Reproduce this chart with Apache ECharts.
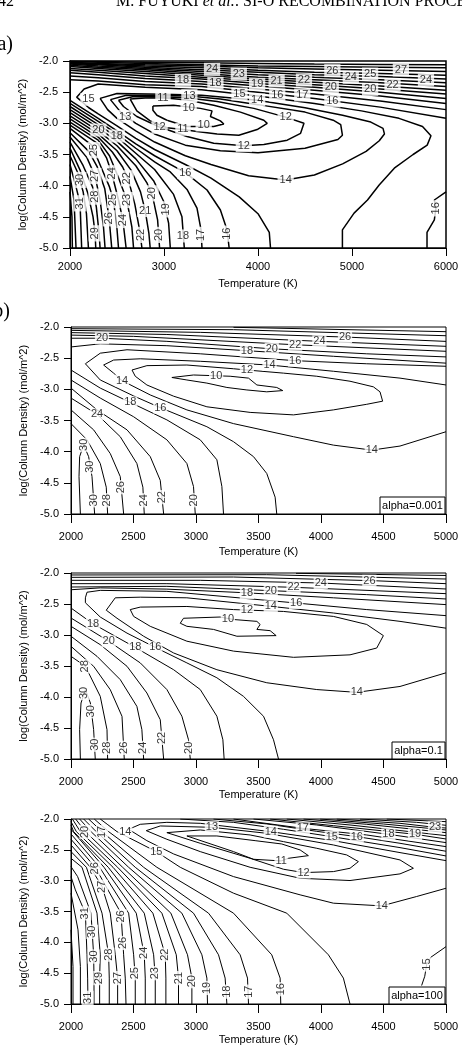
<!DOCTYPE html>
<html>
<head>
<meta charset="utf-8">
<script src="https://cdn.jsdelivr.net/npm/echarts@6/dist/echarts.min.js"></script>
<style>
html, body { margin: 0; padding: 0; background: #fff; }
#main { width: 462px; height: 1048px; }
</style>
</head>
<body>
<div id="main"></div>
<script>
// ---- panel (a) ----
const bandTempsA = [2000, 2300, 2800, 3400, 4000, 4600, 5300, 6000]
const bandA = [
  [16, [-2.30, -2.32, -2.38, -2.41, -2.50, -2.60, -2.74, -2.92]],
  [17, [-2.24, -2.27, -2.33, -2.37, -2.45, -2.53, -2.64, -2.78]],
  [18, [-2.19, -2.22, -2.28, -2.33, -2.40, -2.47, -2.56, -2.68]],
  [19, [-2.15, -2.18, -2.24, -2.29, -2.36, -2.42, -2.50, -2.60]],
  [20, [-2.12, -2.15, -2.20, -2.26, -2.32, -2.38, -2.45, -2.53]],
  [21, [-2.09, -2.12, -2.17, -2.23, -2.29, -2.34, -2.40, -2.47]],
  [22, [-2.07, -2.10, -2.14, -2.20, -2.26, -2.30, -2.35, -2.41]],
  [23, [-2.05, -2.08, -2.12, -2.17, -2.22, -2.26, -2.30, -2.35]],
  [24, [-2.04, -2.06, -2.10, -2.14, -2.18, -2.22, -2.25, -2.29]],
  [25, [-2.03, -2.05, -2.08, -2.11, -2.15, -2.18, -2.20, -2.23]],
  [26, [-2.02, -2.04, -2.06, -2.08, -2.11, -2.13, -2.15, -2.17]],
  [27, [-2.01, -2.02, -2.04, -2.06, -2.08, -2.09, -2.10, -2.11]],
  [28, [-2.005, -2.01, -2.02, -2.03, -2.04, -2.05, -2.055, -2.06]]
]
const contoursA = [
  [10, [[2882, -2.72], [3102, -2.71], [3387, -2.76], [3511, -2.80], [3494, -2.89], [3600, -2.96], [3636, -3.01], [3529, -3.05], [3245, -3.05], [3031, -2.95], [2925, -2.87], [2882, -2.79], [2882, -2.72]]],
  [11, [[2640, -2.61], [2800, -2.595], [2989, -2.59], [3245, -2.625], [3529, -2.71], [3813, -2.82], [4062, -2.95], [4098, -3.00], [3991, -3.10], [3796, -3.19], [3565, -3.17], [3351, -3.13], [3202, -3.10], [3031, -3.07], [2853, -2.96], [2711, -2.80], [2640, -2.61]]],
  [12, [[2516, -2.63], [2676, -2.57], [2960, -2.575], [3245, -2.59], [3565, -2.65], [3956, -2.76], [4294, -2.90], [4489, -3.00], [4453, -3.16], [4311, -3.27], [4062, -3.34], [3849, -3.36], [3529, -3.32], [3245, -3.21], [2953, -3.06], [2711, -2.89], [2569, -2.73], [2516, -2.63]]],
  [13, [[2430, -2.62], [2600, -2.55], [3000, -2.555], [3270, -2.56], [3600, -2.61], [4000, -2.70], [4500, -2.82], [4800, -2.95], [4880, -3.02], [4898, -3.19], [4850, -3.26], [4500, -3.40], [4000, -3.47], [3600, -3.44], [3227, -3.35], [2900, -3.17], [2700, -3.00], [2550, -2.84], [2430, -2.62]]],
  [14, [[2320, -2.60], [2500, -2.52], [3000, -2.535], [3400, -2.55], [3991, -2.63], [4500, -2.75], [4900, -2.87], [5200, -2.98], [5330, -3.08], [5345, -3.17], [5290, -3.28], [5150, -3.45], [4900, -3.65], [4600, -3.83], [4294, -3.91], [3900, -3.84], [3500, -3.66], [3227, -3.52], [2900, -3.30], [2700, -3.12], [2500, -2.92], [2400, -2.78], [2320, -2.60]]],
  [15, [[4898, -5.0], [4898, -4.71], [5022, -4.44], [5165, -4.23], [5289, -3.99], [5450, -3.72], [5650, -3.50], [5800, -3.35], [5840, -3.20], [5750, -3.05], [5500, -2.92], [5100, -2.80], [4600, -2.68], [4000, -2.56], [3400, -2.46], [2800, -2.42], [2300, -2.37], [2150, -2.45], [2071, -2.58], [2200, -2.75], [2300, -2.85], [2500, -3.04], [2700, -3.24], [2900, -3.42], [3227, -3.66], [3500, -3.88], [3800, -4.18], [4000, -4.45], [4120, -4.75], [4133, -5.0]]],
  [16, [[6000, -4.10], [5876, -4.23], [5893, -4.36], [5876, -4.55], [5798, -4.75], [5798, -5.0]]],
  [16, [[2000, -2.63], [2300, -2.92], [2500, -3.12], [2700, -3.33], [2900, -3.52], [3227, -3.79], [3458, -4.07], [3600, -4.39], [3671, -4.71], [3693, -5.0]]],
  [17, [[2000, -2.68], [2300, -2.97], [2500, -3.17], [2700, -3.40], [2900, -3.62], [3067, -3.78], [3245, -4.06], [3351, -4.36], [3394, -4.71], [3404, -5.0]]],
  [18, [[2000, -2.73], [2300, -3.02], [2500, -3.22], [2700, -3.48], [2900, -3.74], [3102, -4.14], [3191, -4.50], [3216, -5.0]]],
  [19, [[2000, -2.78], [2300, -3.07], [2500, -3.29], [2700, -3.57], [2889, -3.92], [2996, -4.25], [3049, -4.60], [3067, -5.0]]],
  [20, [[2000, -2.83], [2300, -3.12], [2500, -3.36], [2700, -3.68], [2820, -3.96], [2880, -4.18], [2932, -4.55], [2953, -5.0]]],
  [21, [[2000, -2.88], [2300, -3.17], [2500, -3.44], [2650, -3.75], [2750, -4.10], [2800, -4.40], [2839, -4.76], [2853, -5.0]]],
  [22, [[2000, -2.93], [2300, -3.22], [2450, -3.46], [2560, -3.70], [2620, -3.90], [2690, -4.30], [2745, -4.75], [2765, -5.0]]],
  [23, [[2000, -2.98], [2300, -3.27], [2420, -3.52], [2510, -3.85], [2604, -4.23], [2658, -4.66], [2676, -5.0]]],
  [24, [[2000, -3.03], [2300, -3.33], [2390, -3.56], [2444, -3.80], [2516, -4.23], [2562, -4.55], [2597, -5.0]]],
  [25, [[2000, -3.08], [2231, -3.35], [2330, -3.70], [2420, -4.02], [2462, -4.23], [2498, -4.66], [2516, -5.0]]],
  [26, [[2000, -3.15], [2200, -3.45], [2290, -3.70], [2370, -4.05], [2416, -4.52], [2444, -5.0]]],
  [27, [[2000, -3.22], [2180, -3.55], [2267, -3.85], [2320, -4.23], [2356, -4.66], [2373, -5.0]]],
  [28, [[2000, -3.30], [2140, -3.68], [2240, -4.02], [2280, -4.34], [2309, -4.76], [2320, -5.0]]],
  [29, [[2000, -3.40], [2107, -3.75], [2190, -4.12], [2245, -4.50], [2267, -4.76], [2274, -5.0]]],
  [30, [[2000, -3.52], [2085, -3.80], [2140, -4.10], [2175, -4.45], [2196, -5.0]]],
  [31, [[2000, -3.66], [2064, -4.02], [2107, -4.28], [2124, -5.0]]],
  [32, [[2000, -3.85], [2043, -4.23], [2064, -5.0]]],
  [33, [[2000, -4.10], [2021, -4.50], [2025, -5.0]]]
]
const labelsA = [
  [3511, -2.134, 24], [3796, -2.209, 23], [3202, -2.31, 18], [3547, -2.358, 18], [3991, -2.374, 19],
  [4198, -2.32, 21], [4489, -2.305, 22], [4791, -2.155, 26], [4987, -2.262, 24], [5193, -2.209, 25],
  [5520, -2.144, 27], [4774, -2.422, 20], [5193, -2.455, 20], [5431, -2.385, 22], [5787, -2.305, 24],
  [2196, -2.615, 15], [2989, -2.588, 11], [3270, -2.556, 13], [3803, -2.529, 15], [3991, -2.626, 14],
  [4205, -2.545, 16], [4471, -2.545, 17], [4791, -2.642, 16], [3262, -2.75, 10], [3422, -3.027, 10],
  [2587, -2.89, 13], [2953, -3.064, 12], [3202, -3.096, 11], [4294, -2.904, 12], [3849, -3.358, 12],
  [2302, -3.107, 20], [2498, -3.203, 18], [3227, -3.791, 16], [4294, -3.909, 14], [2800, -4.40, 21],
  [3202, -4.807, 18]
]
const vLabelsA = [
  [2254, -3.43, 25], [2107, -3.909, 30], [2267, -3.845, 27], [2444, -3.802, 24], [2610, -3.882, 22],
  [2107, -4.283, 31], [2264, -4.176, 28], [2462, -4.23, 25], [2604, -4.23, 23], [2875, -4.123, 20],
  [2416, -4.524, 26], [2562, -4.551, 24], [3022, -4.38, 19], [2267, -4.765, 29], [2750, -4.79, 22],
  [2942, -4.79, 20], [3396, -4.79, 17], [3672, -4.77, 16], [5893, -4.364, 16]
]

// ---- panel (b) alpha=0.001 ----
const contoursB = [
  [10, [[2807, -2.81], [2980, -2.77], [3273, -2.79], [3420, -2.82], [3487, -2.93], [3646, -2.97], [3694, -3.02], [3566, -3.04], [3407, -3.01], [3247, -2.97], [3087, -2.90], [2927, -2.85], [2807, -2.81]]],
  [12, [[2488, -2.69], [2607, -2.62], [2927, -2.61], [3300, -2.67], [3407, -2.69], [3700, -2.74], [3966, -2.79], [4232, -2.87], [4419, -2.96], [4472, -3.04], [4493, -3.19], [4366, -3.24], [4099, -3.33], [3780, -3.41], [3433, -3.37], [3087, -3.28], [2821, -3.11], [2607, -2.93], [2514, -2.79], [2488, -2.69]]],
  [14, [[5000, -2.93], [4632, -2.82], [4099, -2.71], [3588, -2.61], [3034, -2.55], [2554, -2.51], [2341, -2.53], [2261, -2.61], [2341, -2.74], [2408, -2.86], [2634, -3.09], [2927, -3.33], [3300, -3.55], [3780, -3.76], [4099, -3.895], [4406, -3.975], [4632, -3.91], [5000, -3.68]]],
  [16, [[5000, -2.63], [4366, -2.59], [3793, -2.54], [3034, -2.43], [2448, -2.365], [2234, -2.42], [2115, -2.59], [2234, -2.85], [2501, -3.106], [2714, -3.294], [3087, -3.60], [3300, -3.84], [3460, -4.08], [3566, -4.35], [3633, -4.73], [3646, -5.0]]],
  [18, [[2000, -2.32], [2234, -2.27], [2767, -2.30], [3407, -2.38], [4099, -2.47], [5000, -2.58]]],
  [18, [[2000, -2.69], [2234, -2.98], [2474, -3.21], [2767, -3.49], [3034, -3.81], [3167, -4.13], [3207, -4.56], [3220, -5.0]]],
  [20, [[2000, -2.18], [2248, -2.18], [2767, -2.23], [3606, -2.35], [4366, -2.43], [5000, -2.48]]],
  [20, [[2000, -2.85], [2234, -3.14], [2501, -3.44], [2767, -3.81], [2927, -4.19], [2980, -4.56], [2994, -5.0]]],
  [22, [[2000, -2.13], [2501, -2.15], [3793, -2.285], [5000, -2.39]]],
  [22, [[2000, -2.98], [2208, -3.33], [2448, -3.65], [2634, -4.08], [2714, -4.46], [2741, -5.0]]],
  [24, [[2000, -2.09], [2767, -2.12], [3987, -2.23], [5000, -2.31]]],
  [24, [[2000, -3.14], [2208, -3.40], [2394, -3.76], [2527, -4.19], [2575, -4.57], [2586, -5.0]]],
  [26, [[2000, -2.054], [3034, -2.086], [4192, -2.161], [5000, -2.231]]],
  [26, [[2000, -3.33], [2181, -3.65], [2314, -4.03], [2394, -4.40], [2421, -5.0]]],
  [28, [[2000, -2.027], [3300, -2.043], [5000, -2.14]]],
  [28, [[2000, -3.55], [2128, -3.81], [2234, -4.19], [2282, -4.57], [2293, -5.0]]],
  [30, [[2075, -5.0], [2064, -4.40], [2069, -4.08], [2101, -3.89], [2141, -4.08], [2168, -4.40], [2189, -5.0]]],
  [30, [[3300, -2.005], [5000, -2.075]]]
]
const labelsB = [
  [2248, -2.18, 20], [3407, -2.38, 18], [3606, -2.35, 20], [3793, -2.285, 22], [3987, -2.23, 24],
  [4192, -2.161, 26], [3407, -2.69, 12], [3588, -2.61, 14], [3793, -2.54, 16], [3161, -2.78, 10],
  [2408, -2.86, 14], [2474, -3.21, 18], [2714, -3.294, 16], [2208, -3.40, 24], [4406, -3.975, 14]
]
const vLabelsB = [
  [2101, -3.89, 30], [2154, -4.24, 30], [2181, -4.78, 30], [2287, -4.78, 28], [2402, -4.57, 26],
  [2581, -4.78, 24], [2728, -4.73, 22], [2987, -4.78, 20]
]

// ---- panel (c) alpha=0.1 ----
const contoursC = [
  [10, [[2874, -2.81], [2900, -2.73], [3193, -2.71], [3300, -2.75], [3487, -2.78], [3513, -2.83], [3487, -2.91], [3593, -2.93], [3641, -3.01], [3327, -3.02], [3140, -2.91], [2927, -2.86], [2874, -2.81]]],
  [12, [[2474, -2.59], [2554, -2.55], [2927, -2.54], [3300, -2.59], [3700, -2.62], [4099, -2.70], [4366, -2.83], [4499, -3.01], [4446, -3.21], [4232, -3.32], [3780, -3.36], [3300, -3.26], [2927, -3.10], [2634, -2.86], [2501, -2.70], [2474, -2.59]]],
  [14, [[5000, -2.89], [4632, -2.78], [4099, -2.645], [3598, -2.538], [2927, -2.40], [2554, -2.39], [2354, -2.40], [2282, -2.60], [2368, -2.73], [2581, -3.02], [2821, -3.29], [3167, -3.56], [3566, -3.77], [3966, -3.88], [4286, -3.925], [4632, -3.83], [5000, -3.61]]],
  [16, [[5000, -2.688], [4366, -2.59], [3801, -2.484], [2767, -2.296], [2234, -2.28], [2128, -2.31], [2115, -2.40], [2115, -2.48], [2234, -2.71], [2448, -2.97], [2674, -3.20], [2927, -3.45], [3167, -3.69], [3380, -3.99], [3540, -4.31], [3620, -4.69], [3660, -5.0]]],
  [18, [[2000, -2.27], [2234, -2.24], [2767, -2.26], [3407, -2.32], [4099, -2.40], [5000, -2.51]]],
  [18, [[2000, -2.565], [2176, -2.82], [2514, -3.20], [2821, -3.56], [3034, -3.88], [3167, -4.31], [3215, -4.69], [3225, -5.0]]],
  [20, [[2000, -2.226], [2767, -2.215], [3598, -2.285], [4366, -2.349], [5000, -2.419]]],
  [20, [[2000, -2.726], [2301, -3.10], [2554, -3.45], [2767, -3.88], [2887, -4.31], [2940, -4.69], [2954, -5.0]]],
  [22, [[2000, -2.172], [2767, -2.172], [3780, -2.231], [5000, -2.333]]],
  [22, [[2000, -2.86], [2234, -3.156], [2448, -3.505], [2607, -3.935], [2714, -4.366], [2741, -5.0]]],
  [24, [[2000, -2.118], [3034, -2.118], [3993, -2.161], [5000, -2.258]]],
  [24, [[2000, -3.02], [2208, -3.344], [2394, -3.72], [2527, -4.151], [2567, -4.527], [2581, -5.0]]],
  [26, [[2000, -2.07], [3300, -2.065], [4419, -2.124], [5000, -2.172]]],
  [26, [[2000, -3.183], [2181, -3.505], [2314, -3.882], [2408, -4.312], [2426, -5.0]]],
  [28, [[2000, -2.032], [3566, -2.027], [5000, -2.097]]],
  [28, [[2000, -3.344], [2115, -3.505], [2234, -3.989], [2288, -4.527], [2293, -5.0]]],
  [30, [[2075, -5.0], [2069, -4.527], [2080, -4.097], [2115, -3.88], [2155, -4.097], [2181, -4.527], [2194, -5.0]]],
  [30, [[3800, -2.005], [5000, -2.04]]]
]
const labelsC = [
  [4387, -2.124, 26], [3998, -2.161, 24], [3780, -2.231, 22], [3598, -2.285, 20], [3407, -2.323, 18],
  [3801, -2.484, 16], [3598, -2.538, 14], [3407, -2.591, 12], [3255, -2.735, 10], [2176, -2.817, 18],
  [2301, -3.102, 20], [2514, -3.199, 18], [2674, -3.199, 16], [4286, -3.925, 14]
]
const vLabelsC = [
  [2115, -3.505, 28], [2101, -3.935, 30], [2163, -4.23, 30], [2188, -4.77, 30], [2291, -4.82, 28],
  [2421, -4.82, 26], [2576, -4.82, 24], [2726, -4.66, 22], [2947, -4.82, 20]
]

// ---- panel (d) alpha=100 ----
const contoursD = [
  [11, [[2927, -2.275], [3300, -2.529], [3460, -2.653], [3681, -2.68], [3740, -2.637], [3899, -2.594], [3833, -2.502], [3686, -2.405], [3473, -2.351], [3167, -2.275], [2927, -2.275]]],
  [12, [[2767, -2.221], [3034, -2.394], [3433, -2.637], [3700, -2.815], [3860, -2.869], [4099, -2.853], [4232, -2.799], [4299, -2.691], [4206, -2.583], [3966, -2.475], [3700, -2.367], [3433, -2.259], [3034, -2.178], [2767, -2.221]]],
  [13, [[2602, -2.189], [2714, -2.113], [3127, -2.135], [3566, -2.232], [4099, -2.421], [4632, -2.664], [4739, -2.799], [4632, -2.89], [4232, -2.998], [3833, -2.961], [3433, -2.783], [3034, -2.529], [2767, -2.329], [2602, -2.189]]],
  [14, [[5000, -2.675], [4632, -2.545], [4099, -2.351], [3598, -2.205], [3034, -2.07], [2767, -2.054], [2554, -2.086], [2461, -2.167], [2607, -2.351], [2821, -2.567], [3300, -2.934], [3833, -3.23], [4099, -3.365], [4486, -3.409], [4765, -3.257], [5000, -3.123]]],
  [15, [[2234, -2.0], [2368, -2.205], [2682, -2.529], [2874, -2.783], [3300, -3.203], [3726, -3.527], [4059, -4.202], [4179, -4.58], [4232, -5.0]]],
  [15, [[2874, -2.0], [3300, -2.054], [3700, -2.167], [4086, -2.286], [4632, -2.464], [5000, -2.599]]],
  [15, [[5000, -4.07], [4880, -4.24], [4845, -4.36], [4830, -4.55], [4805, -4.70]]],
  [16, [[2186, -2.0], [2301, -2.205], [2687, -2.783], [3300, -3.527], [3606, -4.202], [3673, -4.58], [3678, -5.0]]],
  [16, [[3140, -2.0], [3566, -2.08], [3966, -2.20], [4286, -2.286], [4632, -2.394], [5000, -2.523]]],
  [17, [[2141, -2.0], [2248, -2.205], [2581, -2.783], [3100, -3.527], [3353, -4.202], [3412, -4.58], [3420, -5.0]]],
  [17, [[3300, -2.0], [3854, -2.151], [4366, -2.259], [5000, -2.448]]],
  [18, [[2101, -2.0], [2202, -2.205], [2514, -2.783], [2980, -3.527], [3180, -4.202], [3233, -4.58], [3247, -5.0]]],
  [18, [[3460, -2.0], [3966, -2.097], [4539, -2.248], [5000, -2.383]]],
  [19, [[2069, -2.0], [2160, -2.205], [2461, -2.783], [2887, -3.527], [3047, -4.202], [3087, -4.58], [3092, -5.0]]],
  [19, [[3593, -2.0], [4099, -2.108], [4752, -2.248], [5000, -2.324]]],
  [20, [[2037, -2.0], [2115, -2.205], [2413, -2.783], [2799, -3.527], [2932, -4.202], [2967, -4.58], [2967, -5.0]]],
  [20, [[3726, -2.0], [4232, -2.097], [5000, -2.27]]],
  [21, [[2011, -2.0], [2075, -2.205], [2373, -2.783], [2727, -3.527], [2842, -4.202], [2860, -4.58], [2860, -5.0]]],
  [21, [[3860, -2.0], [4366, -2.086], [5000, -2.221]]],
  [22, [[2000, -2.043], [2043, -2.205], [2336, -2.783], [2655, -3.527], [2754, -4.202], [2759, -4.58], [2759, -5.0]]],
  [22, [[3993, -2.0], [4499, -2.081], [5000, -2.178]]],
  [23, [[2000, -2.097], [2021, -2.205], [2298, -2.783], [2586, -3.527], [2661, -4.202], [2674, -4.58], [2674, -5.0]]],
  [23, [[4126, -2.0], [4632, -2.07], [4912, -2.135], [5000, -2.146]]],
  [24, [[2000, -2.167], [2264, -2.783], [2522, -3.527], [2586, -4.202], [2594, -4.58], [2594, -5.0]]],
  [24, [[4312, -2.0], [4765, -2.054], [5000, -2.102]]],
  [25, [[2000, -2.243], [2229, -2.783], [2461, -3.527], [2501, -4.202], [2514, -4.58], [2514, -5.0]]],
  [25, [[4526, -2.0], [5000, -2.043]]],
  [26, [[2000, -2.329], [2194, -2.783], [2400, -3.527], [2421, -4.202], [2434, -4.58], [2440, -5.0]]],
  [27, [[2000, -2.421], [2155, -2.783], [2248, -3.096], [2314, -3.527], [2354, -4.202], [2373, -4.58], [2373, -5.0]]],
  [28, [[2000, -2.529], [2123, -2.783], [2248, -3.527], [2301, -4.202], [2306, -4.58], [2306, -5.0]]],
  [29, [[2000, -2.637], [2088, -2.783], [2208, -3.527], [2234, -4.202], [2229, -4.58], [2229, -5.0]]],
  [30, [[2000, -2.772], [2053, -2.934], [2160, -3.527], [2181, -4.202], [2184, -4.58], [2184, -5.0]]],
  [31, [[2000, -2.934], [2035, -3.15], [2115, -3.527], [2128, -4.202], [2133, -4.58], [2136, -5.0]]],
  [32, [[2000, -3.203], [2056, -3.797], [2075, -4.391], [2075, -5.0]]],
  [33, [[2000, -3.797], [2016, -4.391], [2016, -5.0]]]
]
const labelsD = [
  [2434, -2.21, 14], [3127, -2.135, 13], [3598, -2.205, 14], [3854, -2.151, 17], [4086, -2.286, 15],
  [4286, -2.286, 16], [4539, -2.248, 18], [4752, -2.248, 19], [4912, -2.135, 23], [2682, -2.529, 15],
  [3681, -2.68, 11], [3860, -2.869, 12], [4486, -3.409, 14]
]
const vLabelsD = [
  [2115, -2.21, 20], [2248, -2.21, 17], [2194, -2.80, 26], [2248, -3.10, 27], [2115, -3.53, 31],
  [2401, -3.58, 26], [2170, -3.83, 30], [2415, -4.01, 26], [2181, -4.23, 30], [2301, -4.20, 28],
  [2586, -4.17, 24], [2754, -4.20, 22], [2226, -4.58, 29], [2373, -4.58, 27], [2514, -4.50, 25],
  [2674, -4.50, 23], [2860, -4.58, 21], [2967, -4.63, 20], [3087, -4.74, 19], [3247, -4.80, 18],
  [3420, -4.80, 17], [3678, -4.76, 16], [2133, -4.90, 31], [4845, -4.36, 15]
]

const boxTexts = ['alpha=0.001', 'alpha=0.1', 'alpha=100']

const FONT = 'Liberation Sans'
const chart = echarts.init(document.getElementById('main'), null, { renderer: 'canvas' })

const grids = [
  { left: 70, top: 61, width: 376, height: 187 },
  { left: 71, top: 327, width: 375, height: 187 },
  { left: 71, top: 573, width: 375, height: 186 },
  { left: 71, top: 819, width: 375, height: 185 }
]

function xAxis (i, max, interval, margin, gap, tick) {
  return {
    type: 'value', gridIndex: i, min: 2000, max: max, interval: interval,
    name: 'Temperature (K)', nameLocation: 'middle', nameGap: gap,
    nameTextStyle: { color: '#000', fontSize: 11, fontFamily: FONT },
    axisLine: { show: true, onZero: false, lineStyle: { color: '#000', width: 1 } },
    axisTick: { show: true, inside: false, length: tick, lineStyle: { color: '#000', width: 1 } },
    axisLabel: { color: '#000', fontSize: 11, fontFamily: FONT, margin: margin, formatter: v => String(v) },
    splitLine: { show: false }
  }
}
function yAxis (i) {
  return {
    type: 'value', gridIndex: i, min: -5, max: -2, interval: 0.5,
    name: 'log(Column Density) (mol/m^2)', nameLocation: 'middle', nameGap: 40,
    nameTextStyle: { color: '#000', fontSize: 11, fontFamily: FONT },
    axisLine: { show: true, onZero: false, lineStyle: { color: '#000', width: 1 } },
    axisTick: { show: true, inside: false, length: 7, lineStyle: { color: '#000', width: 1 } },
    axisLabel: { color: '#000', fontSize: 11, fontFamily: FONT, margin: 12, formatter: v => v.toFixed(1) },
    splitLine: { show: false }
  }
}

function lines (list, i, w) {
  return list.map(c => ({
    type: 'line', xAxisIndex: i, yAxisIndex: i, data: c[1],
    symbol: 'none', silent: true, animation: false, clip: true, z: 2,
    lineStyle: { color: '#000', width: w }
  }))
}
function labels (list, i, rot, fs, pad) {
  return {
    type: 'scatter', xAxisIndex: i, yAxisIndex: i, data: list,
    symbolSize: 1, itemStyle: { color: 'rgba(0,0,0,0)' }, silent: true, animation: false, z: 10,
    label: {
      show: true, position: 'inside', rotate: rot, formatter: p => String(p.value[2]),
      color: '#000', fontSize: fs, fontFamily: FONT, backgroundColor: '#fff',
      padding: pad, lineHeight: fs
    }
  }
}

const bandLinesA = bandA.map(b => [b[0], bandTempsA.map((t, k) => [t, b[1][k]])])

let series = []
series = series.concat(lines(contoursA.concat(bandLinesA), 0, 1.5))
series = series.concat(lines(contoursB, 1, 1))
series = series.concat(lines(contoursC, 2, 1))
series = series.concat(lines(contoursD, 3, 1))
const padA = [1, 2, 1, 2]
const padB = [1, 1, 0, 1]
series.push(labels(labelsA, 0, 0, 11, padA), labels(vLabelsA, 0, 90, 11, padA))
series.push(labels(labelsB, 1, 0, 11, padB), labels(vLabelsB, 1, 90, 11, padB))
series.push(labels(labelsC, 2, 0, 11, padB), labels(vLabelsC, 2, 90, 11, padB))
series.push(labels(labelsD, 3, 0, 11, padB), labels(vLabelsD, 3, 90, 11, padB))

const boxes = [[380, 497, 65], [392, 742, 53], [389, 987, 56]]
const graphic = [
  { type: 'text', x: -2, y: 2, z: 100, style: { text: '42', font: '16px "Liberation Serif"', fill: '#000', textVerticalAlign: 'middle' } },
  {
    type: 'text', x: 116, y: 2, z: 100,
    style: {
      text: 'M. FUYUKI {i|et al.}: SI-O RECOMBINATION PROCESS', font: '16px "Liberation Serif"', fill: '#000', textVerticalAlign: 'middle',
      rich: { i: { font: 'italic 16px "Liberation Serif"', fill: '#000' } }
    }
  },
  { type: 'text', x: 13, y: 45, z: 100, style: { text: '(a)', font: '20px "Liberation Serif"', fill: '#000', textAlign: 'right', textVerticalAlign: 'middle' } },
  { type: 'text', x: 10, y: 312, z: 100, style: { text: '(b)', font: '20px "Liberation Serif"', fill: '#000', textAlign: 'right', textVerticalAlign: 'middle' } }
]
boxes.forEach((b, k) => {
  graphic.push({ type: 'rect', z: 100, shape: { x: b[0], y: b[1], width: b[2], height: 17 }, style: { fill: '#fff', stroke: '#000', lineWidth: 1 } })
  graphic.push({ type: 'text', z: 101, x: b[0] + b[2] / 2, y: b[1] + 9, style: { text: boxTexts[k], font: '11px "Liberation Sans"', fill: '#000', textAlign: 'center', textVerticalAlign: 'middle' } })
})

chart.setOption({
  animation: false,
  backgroundColor: '#fff',
  grid: grids.map((g, i) => Object.assign({ show: true, borderColor: '#000', borderWidth: i === 0 ? 1.5 : 1, backgroundColor: 'transparent' }, g)),
  xAxis: [
    xAxis(0, 6000, 1000, 13, 30, 8),
    xAxis(1, 5000, 500, 17, 32, 9),
    xAxis(2, 5000, 500, 17, 30, 9),
    xAxis(3, 5000, 500, 17, 30, 9)
  ],
  yAxis: [yAxis(0), yAxis(1), yAxis(2), yAxis(3)],
  series: series,
  graphic: graphic
})
</script>
</body>
</html>
